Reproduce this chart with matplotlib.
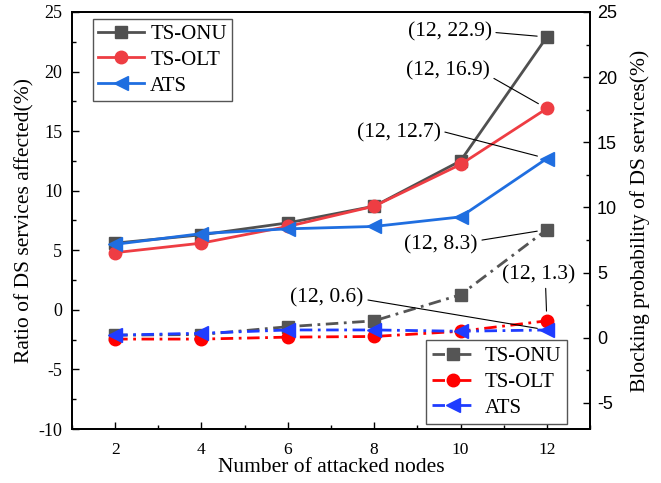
import matplotlib
matplotlib.use('Agg')
import matplotlib.pyplot as plt
from matplotlib.ticker import MultipleLocator

# attacked nodes
nodes = [2, 4, 6, 8, 10, 12]

# ratio of DS services affected (%) - left axis
ratio_onu = [5.6, 6.3, 7.3, 8.7, 12.5, 22.9]
ratio_olt = [4.8, 5.6, 7.0, 8.7, 12.2, 16.9]
ratio_ats = [5.5, 6.4, 6.8, 7.0, 7.8, 12.7]

# blocking probability of DS services (%) - right axis
block_onu = [0.2, 0.25, 0.85, 1.3, 3.3, 8.3]
block_olt = [-0.1, -0.1, 0.05, 0.1, 0.5, 1.3]
block_ats = [0.2, 0.35, 0.6, 0.6, 0.5, 0.6]

series_names = ['TS-ONU', 'TS-OLT', 'ATS']

serif = 'Liberation Serif'
sans = 'Liberation Sans'
plt.rcParams['font.family'] = serif
plt.rcParams['axes.unicode_minus'] = False

fig = plt.figure(figsize=(6.61, 4.83), dpi=100)
ax = fig.add_axes([0.1089, 0.1118, 0.7837, 0.8634])
ax2 = ax.twinx()

solid_cols = ['#505050', '#ee3d43', '#1f6ee0']
dash_cols = ['#555555', '#ff0000', '#1f3cff']
markers = ['s', 'o', '<']
msizes = [8.5, 9, 9.5]

left_lines = []
for ys, c, m, ms, name in zip([ratio_onu, ratio_olt, ratio_ats], solid_cols, markers, msizes, series_names):
    ln, = ax.plot(nodes, ys, color=c, marker=m, markersize=ms, lw=2, label=name)
    left_lines.append(ln)

right_lines = []
for ys, c, m, ms, name in zip([block_onu, block_olt, block_ats], dash_cols, markers, msizes, series_names):
    ln, = ax2.plot(nodes, ys, color=c, marker=m, markersize=ms, lw=2,
                   dashes=(4.5, 2, 1, 2), label=name)
    right_lines.append(ln)

ax.set_xlim(1, 13)
ax.set_ylim(-10, 25)
ax2.set_ylim(-7, 25)
ax.xaxis.set_major_locator(MultipleLocator(2))
ax.xaxis.set_minor_locator(MultipleLocator(1))
ax.yaxis.set_major_locator(MultipleLocator(5))
ax.yaxis.set_minor_locator(MultipleLocator(2.5))
ax2.yaxis.set_major_locator(MultipleLocator(5))
ax2.yaxis.set_minor_locator(MultipleLocator(2.5))

ax.tick_params(axis='x', which='both', direction='in', top=False, pad=9, labelsize=12.5)
ax.tick_params(axis='y', which='both', direction='in', pad=7, labelsize=13)
ax.tick_params(which='major', length=5, width=1)
ax.tick_params(which='minor', length=3, width=1)
ax2.tick_params(axis='y', which='both', direction='in', pad=5, labelsize=13)
ax2.tick_params(which='major', length=5, width=1)
ax2.tick_params(which='minor', length=3, width=1)
for lab in ax2.get_yticklabels():
    lab.set_fontfamily(sans)

for a in (ax, ax2):
    for sp in a.spines.values():
        sp.set_linewidth(1.3)

ax.set_xlabel('Number of attacked nodes', fontsize=15.5, va='center')
ax.xaxis.set_label_coords(0.5, -0.092)
ax.set_ylabel('Ratio of DS services affected(%)', fontsize=15.5, va='center')
ax.yaxis.set_label_coords(-0.091, 0.5)
ax2.set_ylabel('Blocking probability of DS services(%)', fontsize=15.5, va='center')
ax2.yaxis.set_label_coords(1.097, 0.5)

leg1 = ax.legend(handles=left_lines, loc='upper left', bbox_to_anchor=(0.0405, 0.983),
                 borderaxespad=0, fontsize=15, fancybox=False, edgecolor='#555555',
                 framealpha=1, handlelength=2.2, handletextpad=0.3,
                 labelspacing=0.3, borderpad=0.25)
leg1.get_frame().set_linewidth(1)
leg2 = ax2.legend(handles=right_lines, loc='lower right', bbox_to_anchor=(0.956, 0.012),
                  borderaxespad=0, fontsize=15, fancybox=False, edgecolor='#555555',
                  framealpha=1, handlelength=2.0, handletextpad=0.5,
                  labelspacing=0.3, borderpad=0.3)
leg2.get_frame().set_linewidth(1)

# value call-outs at the last point
arrow = dict(arrowstyle='-', color='black', lw=0.8, shrinkA=1, shrinkB=7)
ax.annotate(f'(12, {ratio_onu[-1]})', xy=(12, ratio_onu[-1]), xytext=(9.75, 23.3),
            fontsize=15.5, ha='center', va='center',
            arrowprops=dict(arrow, relpos=(1, 0.5)))
ax.annotate(f'(12, {ratio_olt[-1]})', xy=(12, ratio_olt[-1]), xytext=(9.71, 20.1),
            fontsize=15.5, ha='center', va='center',
            arrowprops=dict(arrow, relpos=(1, 0.2)))
ax.annotate(f'(12, {ratio_ats[-1]})', xy=(12, ratio_ats[-1]), xytext=(8.57, 14.85),
            fontsize=15.5, ha='center', va='center',
            arrowprops=dict(arrow, relpos=(1, 0.6)))
ax2.annotate(f'(12, {block_onu[-1]})', xy=(12, block_onu[-1]), xytext=(9.55, 7.15),
             fontsize=15.5, ha='center', va='center',
             arrowprops=dict(arrow, relpos=(1, 0.7)))
ax2.annotate(f'(12, {block_olt[-1]})', xy=(12, block_olt[-1]), xytext=(11.8, 4.85),
             fontsize=15.5, ha='center', va='center',
             arrowprops=dict(arrow, relpos=(0.6, 0)))
ax2.annotate(f'(12, {block_ats[-1]})', xy=(12, block_ats[-1]), xytext=(6.91, 3.1),
             fontsize=15.5, ha='center', va='center',
             arrowprops=dict(arrow, relpos=(1, 0.4)))

fig.savefig('out.png', dpi=100)
